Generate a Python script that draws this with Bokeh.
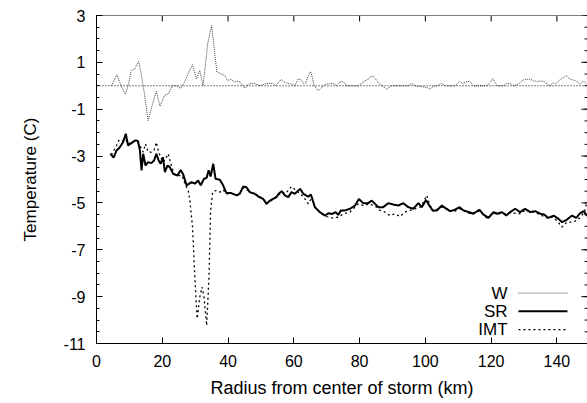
from bokeh.plotting import figure
from bokeh.models import Span, Label, FixedTicker, Range1d
from bokeh.embed import file_html
from bokeh.resources import INLINE
import numpy as np

# ---------------- data ----------------
w_x = [4.5, 6.2, 7.5, 8.8, 9.6, 10.6, 11.6, 12.8, 13.6, 14.5, 15.7, 16.9, 18.2, 19.3, 20.7, 21.9,
       23.0, 24.3, 25.6, 26.8, 28.1, 29.2, 30.4, 31.4, 32.4, 33.8, 35.0, 35.8, 36.6, 37.8, 39.0,
       39.8, 41.0, 42.0, 43.3, 44.1, 45.1, 46.3, 47.6, 48.2, 49.7, 51.7, 53.7, 54.5, 56.1, 57.3,
       58.3, 59.5, 60.3, 61.3, 62.1, 62.9, 63.6, 64.4, 65.1, 65.6, 66.2, 67.4, 68.4, 69.7, 72.0,
       73.0, 74.3, 75.3, 76.0, 79.6, 80.6, 81.6, 82.6, 83.9, 84.9, 85.9, 86.9, 88.2, 89.7, 94.8,
       95.8, 96.9, 98.4, 100.4, 101.4, 102.4, 104.0, 105.0, 106.1, 109.0, 110.4, 111.4, 112.6,
       113.6, 114.6, 118.7, 119.9, 120.5, 121.2, 121.9, 123.7, 124.8, 125.8, 126.8, 128.3, 129.3,
       130.3, 131.9, 132.9, 134.1, 134.9, 136.1, 137.1, 138.0, 138.8, 139.5, 140.5, 141.5, 143.0,
       144.0, 145.1, 145.9, 146.9, 148.1, 149.1, 150.0]
w_y = [0.0, 0.47, 0.0, -0.37, 0.0, 0.65, 0.72, 1.04, 0.51, -0.27, -1.48, -0.84, -0.24, -0.87, -0.41, -0.34,
       0.0, 0.0, -0.11, 0.16, 0.59, 0.9, 0.3, 0.65, 0.0, 1.79, 2.57, 1.58, 0.59, 0.51, 0.44,
       0.23, 0.27, 0.16, 0.21, 0.08, -0.1, 0.08, 0.1, 0.1, 0.0, 0.1, 0.1, 0.0, 0.27, 0.14,
       0.1, 0.07, 0.0, 0.28, 0.28, 0.11, 0.11, 0.43, 0.61, 0.36, 0.0, -0.21, -0.07, 0.07, 0.1,
       0.0, 0.2, 0.14, 0.0, 0.0, 0.1, 0.21, 0.28, 0.43, 0.28, 0.1, 0.0, -0.14, 0.0, 0.0,
       0.1, 0.0, -0.03, -0.07, -0.14, -0.03, 0.03, 0.1, 0.0, 0.0, 0.18, 0.1, 0.18,
       0.18, 0.0, 0.0, 0.18, 0.31, 0.14, 0.0, 0.0, 0.1, 0.1, 0.0, 0.07, 0.21,
       0.28, 0.28, 0.21, 0.18, 0.21, 0.18, 0.07, 0.0, 0.14, 0.07, 0.21, 0.31, 0.43,
       0.28, 0.24, 0.21, 0.07, 0.21, 0.07, 0.1]

sr_x = [4.2, 5.2, 6.1, 7.1, 8.1, 8.9, 9.6, 10.6, 11.8, 12.6, 13.2, 13.7, 14.2, 14.9, 15.7, 16.7,
        17.5, 18.2, 18.9, 19.5, 20.2, 20.8, 21.6, 22.3, 23.3, 24.6, 25.6, 26.3, 27.4, 28.9, 29.9,
        30.9, 31.7, 32.7, 33.5, 34.1, 34.7, 35.5, 36.2, 37.5, 38.5, 39.5, 41.0, 42.6, 43.6, 44.6,
        45.6, 46.6, 48.1, 49.5, 50.7, 51.7, 52.7, 53.7, 54.7, 55.4, 56.3, 57.3, 58.3, 59.3, 60.3,
        61.9, 62.9, 64.4, 65.2, 66.4, 67.9, 69.5, 70.5, 71.7, 72.7, 73.5, 74.3, 75.6, 77.1, 78.6,
        79.8, 81.1, 82.6, 83.7, 84.7, 85.7, 87.2, 88.7, 90.2, 91.8, 93.3, 94.8, 96.3, 97.9, 98.9,
        100.2, 101.2, 102.2, 103.5, 105.0, 106.0, 107.5, 109.0, 110.4, 111.6, 113.1, 114.6, 116.4,
        117.6, 119.2, 120.7, 121.9, 123.2, 124.6, 125.8, 127.3, 128.8, 130.3, 131.9, 133.4, 134.9,
        136.1, 137.4, 139.0, 140.5, 141.5, 143.0, 144.6, 145.9, 146.9, 148.1, 149.1, 150.0]
sr_y = [-2.9, -3.07, -2.76, -2.62, -2.4, -2.05, -2.55, -2.45, -2.33, -2.36, -2.76, -3.61, -2.9, -3.4, -3.26, -3.3,
        -3.19, -2.9, -3.19, -3.33, -3.05, -3.69, -3.4, -3.47, -3.76, -3.83, -3.59, -3.76, -4.25, -4.11, -4.18,
        -4.04, -4.25, -3.97, -3.93, -3.61, -3.87, -3.33, -3.97, -4.01, -4.25, -4.58, -4.58, -4.68, -4.6, -4.3,
        -4.33, -4.54, -4.61, -4.75, -4.83, -5.04, -4.9, -4.83, -4.75, -4.61, -4.5, -4.68, -4.75, -4.54, -4.61,
        -4.4, -4.61, -4.73, -4.64, -5.18, -5.39, -5.54, -5.44, -5.47, -5.39, -5.51, -5.32, -5.32, -5.25, -5.11,
        -4.83, -5.01, -5.01, -4.9, -5.04, -5.18, -5.18, -5.01, -5.07, -5.11, -5.01, -5.18, -5.25, -5.01, -5.18,
        -4.87, -5.11, -5.32, -5.32, -5.11, -5.21, -5.35, -5.29, -5.18, -5.32, -5.39, -5.46, -5.29,
        -5.49, -5.64, -5.39, -5.46, -5.39, -5.54, -5.39, -5.25, -5.39, -5.25, -5.39, -5.35, -5.46,
        -5.49, -5.64, -5.54, -5.68, -5.82, -5.72, -5.54, -5.64, -5.46, -5.35, -5.54, -5.45]

imt_x = [4.5, 6.1, 6.8, 7.8, 8.8, 9.6, 11.6, 12.6, 13.7, 14.2, 14.9, 15.7, 16.7, 17.5, 18.2, 18.9,
         19.5, 20.3, 21.0, 21.8, 22.6, 23.6, 24.8, 26.0, 26.9, 27.9, 28.4, 29.2, 29.9, 30.6, 31.4,
         32.1, 32.7, 33.5, 34.2, 34.7, 35.3, 36.3, 37.5, 38.5, 39.5, 41.5, 43.1, 44.6, 46.1, 47.6,
         48.2, 50.7, 51.7, 53.7, 56.3, 57.5, 59.3, 60.8, 62.9, 64.4, 65.5, 66.4, 68.4, 70.0, 71.7,
         73.5, 75.0, 77.1, 78.6, 79.6, 81.1, 83.1, 85.2, 86.2, 87.7, 89.2, 90.7, 92.3, 93.8, 95.3,
         96.8, 98.4, 99.4, 100.4, 101.4, 102.4, 105.0, 106.5, 108.5, 110.5, 113.6, 116.4, 118.7,
         120.7, 123.7, 126.0, 128.8, 130.5, 132.9, 134.9, 136.9, 138.5, 140.0, 141.5, 143.0, 145.1,
         146.9, 148.4, 149.0, 150.0]
imt_y = [-2.95, -2.55, -2.33, -2.36, -2.26, -2.48, -2.36, -2.41, -2.69, -2.83, -2.48, -2.83, -2.83, -2.76, -2.41, -2.83,
         -3.05, -3.26, -3.12, -2.9, -3.33, -3.76, -3.83, -3.83, -4.18, -4.47, -4.9, -6.03, -8.17, -9.94, -9.02,
         -8.59, -9.02, -10.23, -8.17, -5.32, -4.54, -4.47, -4.54, -4.44, -4.61, -4.61, -4.68, -4.36, -4.47, -4.61,
         -4.61, -4.82, -5.04, -4.85, -4.55, -4.6, -4.3, -4.47, -4.73, -5.04, -4.75, -5.2, -5.47, -5.58, -5.64,
         -5.61, -5.47, -5.39, -5.18, -5.04, -5.11, -5.04, -5.18, -5.32, -5.39, -5.54, -5.47, -5.58, -5.39, -5.32,
         -5.25, -5.18, -4.97, -4.68, -5.1, -5.35, -5.18, -5.25, -5.39, -5.25, -5.46, -5.35, -5.64,
         -5.45, -5.46, -5.42, -5.46, -5.3, -5.4, -5.5, -5.64, -5.6, -5.75, -6.03, -5.82, -5.82,
         -5.64, -5.39, -5.01, -5.3]

x_ticks = [0, 20, 40, 60, 80, 100, 120, 140]
x_tick_labels = ["0", "20", "40", "60", "80", "100", "120", "140"]
y_ticks = [3, 1, -1, -3, -5, -7, -9, -11]
y_tick_labels = ["3", "1", "-1", "-3", "-5", "-7", "-9", "-11"]
series_names = ["W", "SR", "IMT"]

# ---------------- layout / style ----------------
FONT = "Liberation Sans"
W, H = 587, 403
B_LEFT, B_RIGHT, B_TOP, B_BOTTOM = 96, 0, 15, 60
X0, X1 = 0, 149.3
Y0, Y1 = -11, 3
TICK, MINOR = 6, 3

p = figure(width=W, height=H, output_backend="svg", toolbar_location=None,
           x_range=Range1d(X0, X1), y_range=Range1d(Y0, Y1),
           min_border_left=B_LEFT, min_border_right=B_RIGHT,
           min_border_top=B_TOP, min_border_bottom=B_BOTTOM,
           x_axis_label="Radius from center of storm (km)", y_axis_label="Temperature (C)")
p.background_fill_color = "white"
p.border_fill_color = "white"
p.outline_line_color = None
p.xgrid.visible = False
p.ygrid.visible = False

y_minor = list(np.arange(Y0, Y1 + 0.01, 0.5))
xt = FixedTicker(ticks=x_ticks, minor_ticks=[])
yt = FixedTicker(ticks=y_ticks, minor_ticks=y_minor)

def style_axis(ax, ticker, labels, label_size):
    ax.ticker = ticker
    ax.major_label_overrides = labels
    ax.major_tick_in = TICK
    ax.major_tick_out = 0
    ax.minor_tick_in = MINOR
    ax.minor_tick_out = 0
    ax.major_tick_line_color = "black"
    ax.minor_tick_line_color = "black"
    ax.axis_line_color = "black"
    ax.axis_line_width = 1
    ax.major_label_text_font = FONT
    ax.major_label_text_font_size = "16px"
    ax.major_label_text_color = "black"
    ax.axis_label_text_font = FONT
    ax.axis_label_text_font_size = label_size
    ax.axis_label_text_font_style = "normal"
    ax.axis_label_text_color = "black"

style_axis(p.xaxis[0], xt, {t: s for t, s in zip(x_ticks, x_tick_labels)}, "18px")
p.xaxis[0].major_label_standoff = 11
p.xaxis[0].axis_label_standoff = 8
style_axis(p.yaxis[0], yt, {t: s for t, s in zip(y_ticks, y_tick_labels)}, "17px")
p.yaxis[0].major_label_standoff = 11
p.yaxis[0].axis_label_standoff = 21

# top border with mirrored ticks, mirrored ticks on the right
p.add_layout(Span(location=Y1, dimension="width", line_color="black", line_width=1))
frame_w = W - B_LEFT - B_RIGHT
frame_h = H - B_TOP - B_BOTTOM
dy = (Y1 - Y0) / frame_h
dx = (X1 - X0) / frame_w
p.segment(x0=x_ticks, y0=[Y1] * len(x_ticks), x1=x_ticks, y1=[Y1 - TICK * dy] * len(x_ticks),
          line_color="black", line_width=1)
p.segment(x0=[X1] * len(y_ticks), y0=y_ticks, x1=[X1 - TICK * dx] * len(y_ticks), y1=y_ticks,
          line_color="black", line_width=1)
p.segment(x0=[X1] * len(y_minor), y0=y_minor, x1=[X1 - MINOR * dx] * len(y_minor), y1=y_minor,
          line_color="black", line_width=1)

# zero axis
p.add_layout(Span(location=0, dimension="width", line_color="black", line_width=1, line_dash="1 2"))

styles = [dict(line_color="#444444", line_width=1, line_dash="1 1"),
          dict(line_color="black", line_width=2),
          dict(line_color="black", line_width=1.3, line_dash="2 3")]

p.line(w_x, w_y, **styles[0])
p.line(sr_x, sr_y, **styles[1])
p.line(imt_x, imt_y, **styles[2])

# legend (gnuplot style: right-aligned text, sample to the right)
leg_text_x = 125.0
leg_s0, leg_s1 = 128.3, 143.2
leg_rows = [-8.85, -9.62, -10.41]
for name, yy, st in zip(series_names, leg_rows, styles):
    p.add_layout(Label(x=leg_text_x, y=yy, text=name, text_align="right", text_baseline="middle",
                       text_font=FONT, text_font_size="17px", text_color="black"))
    p.line([leg_s0, leg_s1], [yy, yy], **st)

open("out.html", "w").write(file_html(p, INLINE))
